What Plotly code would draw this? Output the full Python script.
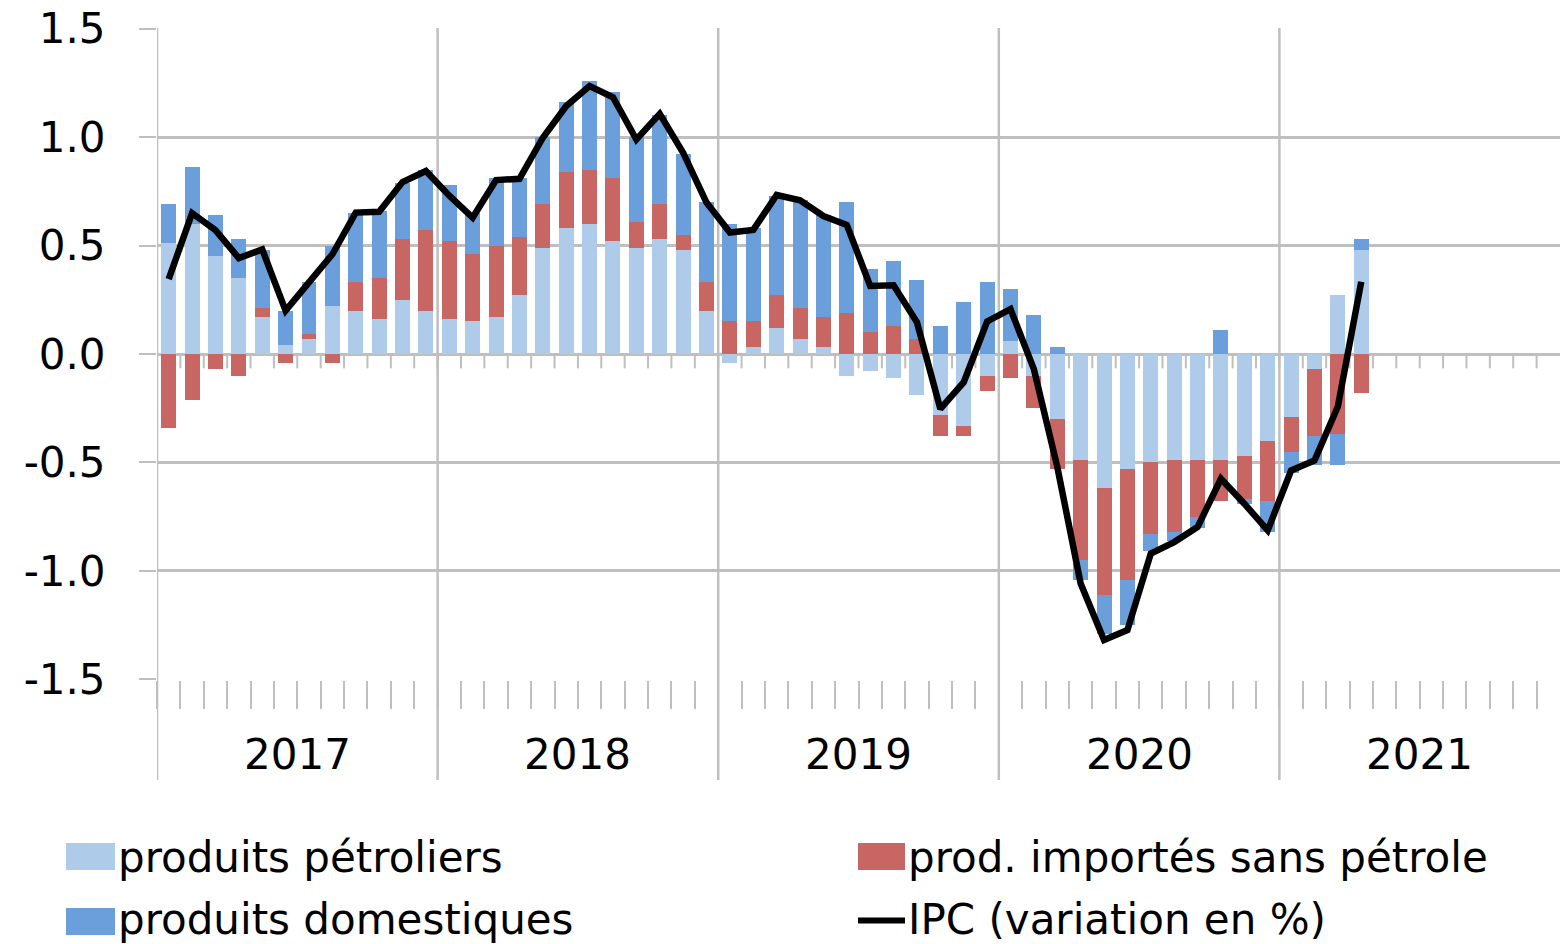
import plotly.graph_objects as go

# ---------------- data (monthly, Jan 2017 - Apr 2021) ----------------
years = ["2017", "2018", "2019", "2020", "2021"]
months_per_year = 12

petroliers = [
    0.51, 0.60, 0.45, 0.35, 0.17, 0.04, 0.07, 0.22, 0.20, 0.16, 0.25, 0.20,
    0.16, 0.15, 0.17, 0.27, 0.49, 0.58, 0.60, 0.52, 0.49, 0.53, 0.48, 0.20,
    -0.04, 0.03, 0.12, 0.07, 0.03, -0.10, -0.08, -0.11, -0.19, -0.28, -0.33, -0.10,
    0.06, -0.10, -0.30, -0.49, -0.62, -0.53, -0.50, -0.49, -0.49, -0.49, -0.47, -0.40,
    -0.29, -0.07, 0.27, 0.48,
]
importes = [
    -0.34, -0.21, -0.07, -0.10, 0.04, -0.04, 0.02, -0.04, 0.13, 0.19, 0.28, 0.37,
    0.36, 0.31, 0.33, 0.27, 0.20, 0.26, 0.25, 0.29, 0.12, 0.16, 0.07, 0.13,
    0.15, 0.12, 0.15, 0.14, 0.14, 0.19, 0.10, 0.13, 0.07, -0.10, -0.05, -0.07,
    -0.11, -0.15, -0.23, -0.46, -0.49, -0.51, -0.33, -0.33, -0.26, -0.19, -0.20, -0.28,
    -0.16, -0.31, -0.37, -0.18,
]
domestiques = [
    0.18, 0.26, 0.19, 0.18, 0.27, 0.16, 0.24, 0.28, 0.32, 0.31, 0.26, 0.28,
    0.26, 0.19, 0.31, 0.27, 0.31, 0.32, 0.41, 0.40, 0.39, 0.41, 0.37, 0.37,
    0.45, 0.43, 0.46, 0.50, 0.47, 0.51, 0.29, 0.30, 0.27, 0.13, 0.24, 0.33,
    0.24, 0.18, 0.03, -0.09, -0.18, -0.21, -0.08, -0.04, -0.05, 0.11, -0.02, -0.14,
    -0.10, -0.13, -0.14, 0.05,
]
ipc = [
    0.345, 0.649, 0.571, 0.442, 0.482, 0.20, 0.33, 0.46, 0.652, 0.656, 0.793, 0.844,
    0.73, 0.629, 0.802, 0.808, 0.997, 1.143, 1.235, 1.184, 0.989, 1.107, 0.928, 0.698,
    0.56, 0.572, 0.733, 0.709, 0.636, 0.595, 0.314, 0.317, 0.146, -0.253, -0.13, 0.15,
    0.207, -0.07, -0.52, -1.058, -1.319, -1.273, -0.92, -0.867, -0.798, -0.575, -0.69, -0.813,
    -0.537, -0.491, -0.242, 0.333,
]

series_names = ["produits pétroliers", "prod. importés sans pétrole",
                "produits domestiques", "IPC (variation en %)"]
y_ticks = [-1.5, -1.0, -0.5, 0.0, 0.5, 1.0, 1.5]
y_ticktext = ["-1.5", "-1.0", "-0.5", "0.0", "0.5", "1.0", "1.5"]

# ---------------- styling ----------------
C_LIGHT = "#AECBE9"
C_RED = "#C86663"
C_DARK = "#6B9FDB"
GRID = "#BFBFBF"
FONT = "DejaVu Sans"
FS = 42

W, H = 1560, 944
# plot area in page pixels: left 157, top 28, bottom 680, right 1560
L, R, T = 157, 0, 28
B = H - 680
PW, PH = W - L - R, H - T - B


def px(xpage):
    return (xpage - L) / PW


def py(ypage):
    return (H - B - ypage) / PH


n_total = len(years) * months_per_year
xpos = [i + 0.5 for i in range(len(ipc))]

fig = go.Figure()
for vals, name, col in [(petroliers, series_names[0], C_LIGHT),
                        (importes, series_names[1], C_RED),
                        (domestiques, series_names[2], C_DARK)]:
    fig.add_trace(go.Bar(x=xpos, y=vals, name=name, marker=dict(color=col, line=dict(width=0)),
                         width=0.64, showlegend=False))
fig.add_trace(go.Scatter(x=xpos, y=ipc, name=series_names[3], mode="lines",
                         line=dict(color="black", width=6.5), showlegend=False))

shapes = []
# year separators, extending below the plot through the label band
for k in range(len(years)):
    xv = k * months_per_year
    shapes.append(dict(type="line", xref="x", yref="paper", x0=xv, x1=xv,
                       y0=1, y1=py(780), line=dict(color=GRID, width=2.5), layer="between"))
# small ticks under the zero line at each month boundary
for i in range(1, n_total):
    shapes.append(dict(type="line", xref="x", yref="y", x0=i, x1=i, y0=0, y1=-0.066,
                       line=dict(color=GRID, width=2), layer="between"))

# manual legend
sw_h = 27
legend_items = [
    (series_names[0], C_LIGHT, 66, 115, 856.5, 857.5, "box"),
    (series_names[1], C_RED, 858, 905, 856.5, 857.5, "box"),
    (series_names[2], C_DARK, 66, 115, 921.5, 919.5, "box"),
    (series_names[3], "black", 858, 905, 920.5, 919.5, "line"),
]
annotations = []
for name, col, x0, x1, yc, ytxt, kind in legend_items:
    if kind == "box":
        shapes.append(dict(type="rect", xref="paper", yref="paper", x0=px(x0), x1=px(x1),
                           y0=py(yc - sw_h / 2), y1=py(yc + sw_h / 2),
                           fillcolor=col, line=dict(width=0)))
    else:
        shapes.append(dict(type="line", xref="paper", yref="paper", x0=px(x0), x1=px(x1),
                           y0=py(yc), y1=py(yc), line=dict(color=col, width=6)))
    annotations.append(dict(text=name, xref="paper", yref="paper", x=px(x1 + 1), y=py(ytxt),
                            xanchor="left", yanchor="middle", showarrow=False,
                            font=dict(family=FONT, size=FS, color="black")))

# year labels
for k, yr in enumerate(years):
    annotations.append(dict(text=yr, xref="x", yref="paper", x=k * months_per_year + 6,
                            y=py(755), xanchor="center", yanchor="middle", showarrow=False,
                            font=dict(family=FONT, size=FS, color="black")))

fig.update_layout(
    width=W, height=H,
    margin=dict(l=L, r=R, t=T, b=B, pad=0, autoexpand=False),
    paper_bgcolor="white", plot_bgcolor="white",
    barmode="relative", bargap=0,
    showlegend=False,
    font=dict(family=FONT, size=FS, color="black"),
    shapes=shapes, annotations=annotations,
    xaxis=dict(range=[0, n_total], tickvals=list(range(n_total)),
               ticktext=[""] * n_total, ticks="outside", ticklen=28,
               tickcolor=GRID, tickwidth=2, showgrid=False, zeroline=False,
               showline=False, fixedrange=True, automargin=False),
    yaxis=dict(range=[-1.503, 1.503], tickvals=y_ticks, ticktext=y_ticktext,
               ticks="outside", ticklen=17, tickcolor=GRID, tickwidth=2,
               showgrid=True, gridcolor=GRID, gridwidth=2.5, zeroline=False,
               showline=False, ticklabelstandoff=25, ticklabeloverflow="allow",
               automargin=False,
               tickfont=dict(family=FONT, size=FS, color="black"), fixedrange=True),
)

fig.write_html("out.html", config={"displayModeBar": False},
               post_script="document.body.style.margin='0px';")
